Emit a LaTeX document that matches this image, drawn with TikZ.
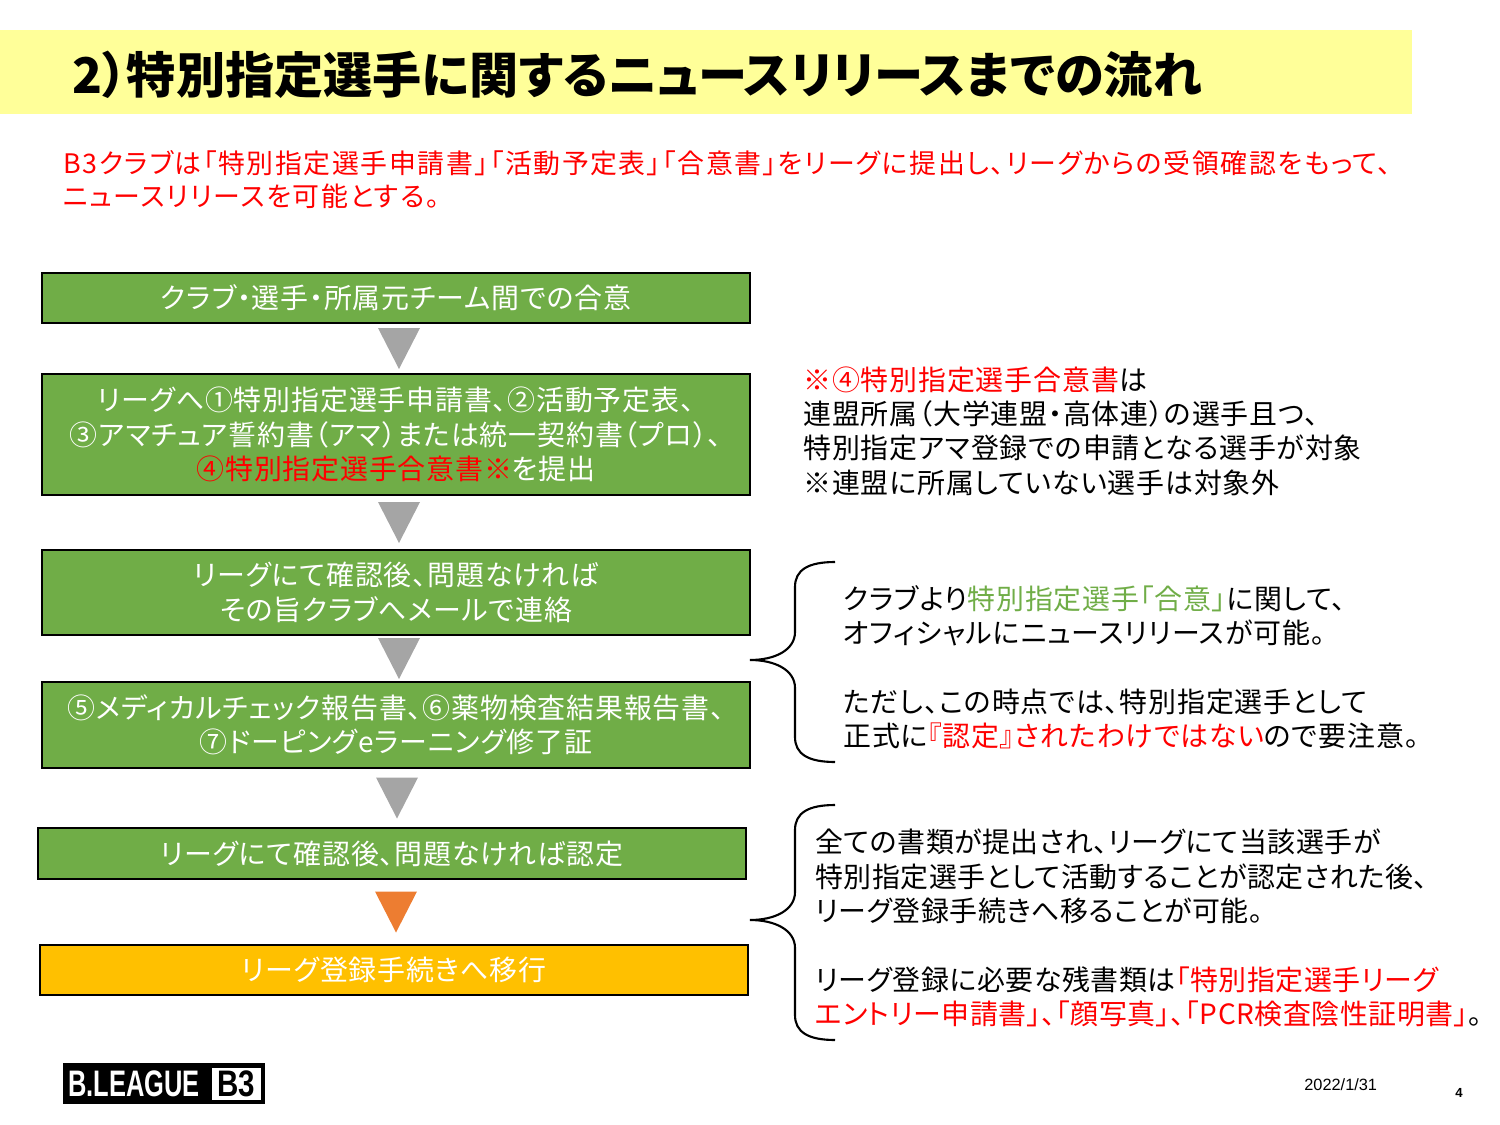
\documentclass[tikz,border=0pt]{standalone}
\usepackage{fontspec}
\usepackage{graphicx}
\setmainfont[RawFeature=+palt]{Noto Sans CJK JP}
\newfontfamily\latinfont{Liberation Sans}
\usepackage{tikz}
\usepackage{xcolor}
\usetikzlibrary{calc}
\definecolor{boxgreen}{HTML}{70AD47}
\definecolor{boxgold}{HTML}{FFC000}
\definecolor{trigray}{HTML}{A5A5A5}
\definecolor{triorange}{HTML}{ED7D31}
\definecolor{bandyellow}{HTML}{FFFF99}
\definecolor{txtred}{HTML}{FF0000}
\newcommand{\txtfont}{\addfontfeature{LetterSpace=3}\fontsize{15.9}{19.5}\selectfont}
\newcommand{\subfont}{\addfontfeature{LetterSpace=6}\fontsize{15.3}{18.8}\selectfont}
\newcommand{\ttlfont}{\fontsize{28}{30}\selectfont\bfseries}
% triangle between two boxes
\newcommand{\flowtri}[3]{\fill[#3] ($(#1.south)!0.5!(#2.north)+(-18,-20.5)$) -- ++(42,0) -- ++(-21,41) -- cycle;}
% left brace, top / middle / bottom
\newcommand{\sidebrace}[3]{\draw[line width=1.2pt] (835,#1) .. controls (808,#1) and (795,#1+8) .. (795,#1+25) -- (795,#2-28) .. controls (795,#2-10) and (775,#2) .. (750,#2) .. controls (775,#2) and (795,#2+10) .. (795,#2+28) -- (795,#3-25) .. controls (795,#3-8) and (808,#3) .. (835,#3);}

\begin{document}
\begin{tikzpicture}[x=0.02cm,y=-0.02cm]%
  \tikzstyle{boxg}=[rectangle,draw=black,line width=1pt,fill=boxgreen,text=white,align=center,minimum width=14.16cm,inner sep=0pt,font=\txtfont]
  \tikzstyle{boxo}=[boxg,fill=boxgold]
  \tikzstyle{note}=[align=left,anchor=west,inner sep=0pt,font=\txtfont]
  \useasboundingbox (0,0) rectangle (1500,1125);
  \fill[bandyellow] (0,30) rectangle (1412,114);
  \node(title)[anchor=west,inner sep=0pt,font=\ttlfont] at (72,75) {2）特別指定選手に関するニュースリリースまでの流れ};
  \node(lead)[note,font=\subfont,text=txtred] at (63,180) {B3クラブは「特別指定選手申請書」「活動予定表」「合意書」をリーグに提出し、リーグからの受領確認をもって、\\ニュースリリースを可能とする。};
  \node(b1)[boxg,minimum height=1cm] at (396,298) {クラブ・選手・所属元チーム間での合意};
  \node(b2)[boxg,minimum height=2.42cm] at (396,434.5) {リーグへ①特別指定選手申請書、②活動予定表、\\③アマチュア誓約書（アマ）または統一契約書（プロ）、\\{\color{txtred}④特別指定選手合意書※}を提出};
  \node(b3)[boxg,minimum height=1.7cm] at (396,592.5) {リーグにて確認後、問題なければ\\その旨クラブへメールで連絡};
  \node(b4)[boxg,minimum height=1.72cm] at (396,725) {⑤メディカルチェック報告書、⑥薬物検査結果報告書、\\⑦ドーピングeラーニング修了証};
  \node(b5)[boxg,minimum height=1.02cm] at (392,853.5) {リーグにて確認後、問題なければ認定};
  \node(b6)[boxo,minimum height=1cm] at (394,970) {リーグ登録手続きへ移行};
  \flowtri{b1}{b2}{trigray}
  \flowtri{b2}{b3}{trigray}
  \flowtri{b3}{b4}{trigray}
  \flowtri{b4}{b5}{trigray}
  \flowtri{b5}{b6}{triorange}
  \node(n1)[note] at (803,431) {{\color{txtred}※④特別指定選手合意書}は\\連盟所属（大学連盟・高体連）の選手且つ、\\特別指定アマ登録での申請となる選手が対象\\※連盟に所属していない選手は対象外};
  \sidebrace{562}{660}{762}
  \node(n2)[note] at (843,667) {クラブより{\color{boxgreen}特別指定選手「合意」}に関して、\\オフィシャルにニュースリリースが可能。\\[19.5pt]ただし、この時点では、特別指定選手として\\正式に{\color{txtred}『認定』されたわけではない}ので要注意。};
  \sidebrace{805}{920}{1040}
  \node(n3)[note,font=\addfontfeature{LetterSpace=2}\fontsize{15.9}{19.5}\selectfont] at (815,928) {全ての書類が提出され、リーグにて当該選手が\\特別指定選手として活動することが認定された後、\\リーグ登録手続きへ移ることが可能。\\[19.5pt]リーグ登録に必要な残書類は{\color{txtred}「特別指定選手リーグ}\\{\color{txtred}エントリー申請書」、「顔写真」、「PCR検査陰性証明書」}。};
  \fill[black] (63,1063) rectangle (265,1104);
  \fill[white] (212,1068) rectangle (261,1100);
  \node(logo)[anchor=west,inner sep=0pt,text=white,font=\latinfont\bfseries\fontsize{21}{21}\selectfont] at (68,1084) {\scalebox{0.69}[1]{B.LEAGUE}};
  \node(b3logo)[inner sep=0pt,text=black,font=\latinfont\bfseries\fontsize{21}{21}\selectfont] at (236.5,1084) {\scalebox{0.8}[1]{B3}};
  \node(date)[anchor=west,inner sep=0pt,font=\latinfont\fontsize{9.3}{11}\selectfont] at (1304,1085) {2022/1/31};
  \node(page)[inner sep=0pt,font=\latinfont\bfseries\fontsize{7.5}{9}\selectfont] at (1459,1093) {4};
\end{tikzpicture}
\end{document}
